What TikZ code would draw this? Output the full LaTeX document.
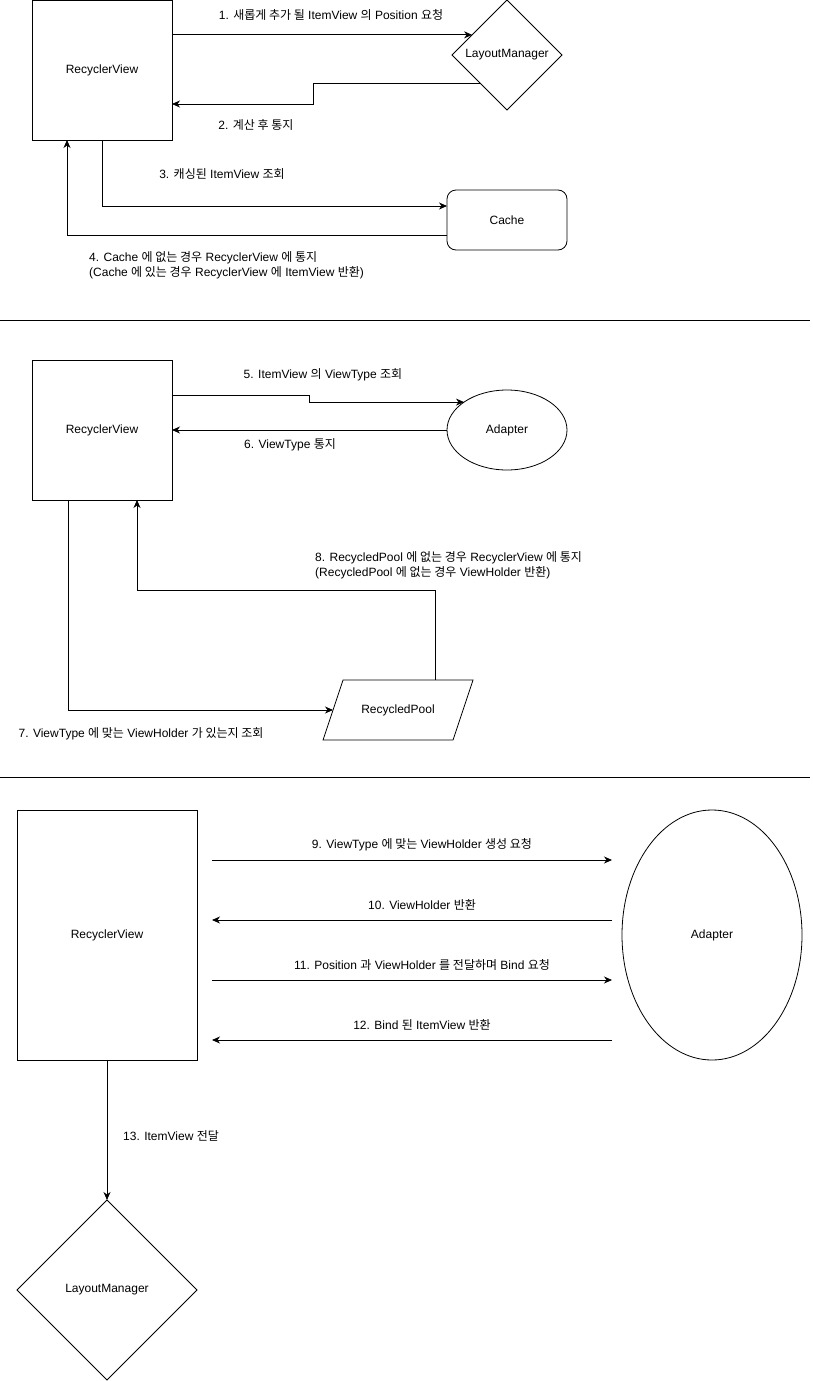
\documentclass[tikz,border=0pt]{standalone}
\usepackage{fontspec}
\setmainfont{Liberation Sans}
\newfontfamily\krfont{Noto Sans CJK KR}
\newcommand{\ko}[1]{{\krfont #1}}
\usetikzlibrary{arrows.meta,shapes.geometric}

\tikzset{
  box/.style={draw, line width=0.8pt, inner sep=0pt, outer sep=0pt},
  viewbox/.style={box, rectangle, minimum width=140pt, minimum height=140pt},
  managerbox/.style={box, diamond, aspect=1},
  adapterbox/.style={box, ellipse},
  poolbox/.style={inner sep=0pt, outer sep=0pt, minimum width=130pt, minimum height=60pt},
  lbl/.style={inner sep=0pt, font=\fontsize{12}{15}\selectfont},
  arr/.style={line width=0.8pt, -{Stealth[length=8pt,width=7pt,inset=2.5pt]}},
  wire/.style={line width=0.8pt}
}

\begin{document}
\begin{tikzpicture}[x=1pt, y=-1pt, every node/.style={font=\fontsize{12}{15}\selectfont}]
\useasboundingbox (0,0) rectangle (813,1381);

% section 1
\node [viewbox] (rv1) at (102,70) {RecyclerView};
\node [managerbox, minimum width=110pt, minimum height=110pt] (lm1) at (507,55) {LayoutManager};
\node [box, rounded corners=9pt, minimum width=120pt, minimum height=60pt] (cache) at (507,220) {Cache};
\draw [arr] (rv1.east |- lm1.150) -- (lm1.150);
\draw [arr] (lm1.226) -- ++(-167,0) |- ([yshift=-34pt]rv1.east);
\draw [arr] (rv1.south) |- ([yshift=14pt]cache.west);
\draw [arr] ([yshift=-15pt]cache.west) -| ([xshift=35pt]rv1.south west);
\node [lbl] (t1) at (331,15) {1. \ko{새롭게 추가 될} ItemView \ko{의} Position \ko{요청}};
\node [lbl] (t2) at (256,125) {2. \ko{계산 후 통지}};
\node [lbl] (t3) at (222,174) {3. \ko{캐싱된} ItemView \ko{조회}};
\node [lbl, anchor=west, align=left] (t4) at (89,265) {4. Cache \ko{에 없는 경우} RecyclerView \ko{에 통지}\\(Cache \ko{에 있는 경우} RecyclerView \ko{에} ItemView \ko{반환})};

\draw [wire] (0,320) -- (810,320);

% section 2
\node [viewbox] (rv2) at (102,430) {RecyclerView};
\node [adapterbox, minimum width=120pt, minimum height=80pt] (ad1) at (507,430) {Adapter};
\node [poolbox] (pool) at (398,710) {RecycledPool};
\draw [wire] ([xshift=-10pt]pool.south west) -- ([xshift=10pt]pool.north west)
  -- ([xshift=10pt]pool.north east) -- ([xshift=-10pt]pool.south east) -- cycle;
\draw [arr] ([yshift=35pt]rv2.east) -- ++(137,0) |- (ad1.147);
\draw [arr] (ad1.west) -- (rv2.east);
\draw [arr] ([xshift=-34pt]rv2.south) |- (pool.west);
\draw [arr] ([xshift=37pt]pool.north) -- ++(0,-90) -| ([xshift=35pt]rv2.south);
\node [lbl] (t5) at (323,375) {5. ItemView \ko{의} ViewType \ko{조회}};
\node [lbl] (t6) at (290,445) {6. ViewType \ko{통지}};
\node [lbl] (t7) at (141,734) {7. ViewType \ko{에 맞는} ViewHolder \ko{가 있는지 조회}};
\node [lbl, anchor=west, align=left] (t8) at (315,565) {8. RecycledPool \ko{에 없는 경우} RecyclerView \ko{에 통지}\\(RecycledPool \ko{에 없는 경우} ViewHolder \ko{반환})};

\draw [wire] (0,777) -- (810,777);

% section 3
\node [viewbox, minimum width=180pt, minimum height=250pt] (rv3) at (107,935) {RecyclerView};
\node [adapterbox, minimum width=180pt, minimum height=250pt] (ad2) at (712,935) {Adapter};
\node [managerbox, minimum width=180pt, minimum height=180pt] (lm2) at (107,1290) {LayoutManager};
\draw [arr] ([xshift=15pt,yshift=75pt]rv3.east) -- ([xshift=-10pt,yshift=75pt]ad2.west);
\draw [arr] ([xshift=-10pt,yshift=15pt]ad2.west) -- ([xshift=15pt,yshift=15pt]rv3.east);
\draw [arr] ([xshift=15pt,yshift=-45pt]rv3.east) -- ([xshift=-10pt,yshift=-45pt]ad2.west);
\draw [arr] ([xshift=-10pt,yshift=-105pt]ad2.west) -- ([xshift=15pt,yshift=-105pt]rv3.east);
\draw [arr] (rv3.south) -- (lm2.north);
\node [lbl] (t9) at (422,845) {9. ViewType \ko{에 맞는} ViewHolder \ko{생성 요청}};
\node [lbl] (t10) at (422,905) {10. ViewHolder \ko{반환}};
\node [lbl] (t11) at (422,965) {11. Position \ko{과} ViewHolder \ko{를 전달하며} Bind \ko{요청}};
\node [lbl] (t12) at (422,1025) {12. Bind \ko{된} ItemView \ko{반환}};
\node [lbl, anchor=west] (t13) at (123,1136) {13. ItemView \ko{전달}};
\end{tikzpicture}
\end{document}
